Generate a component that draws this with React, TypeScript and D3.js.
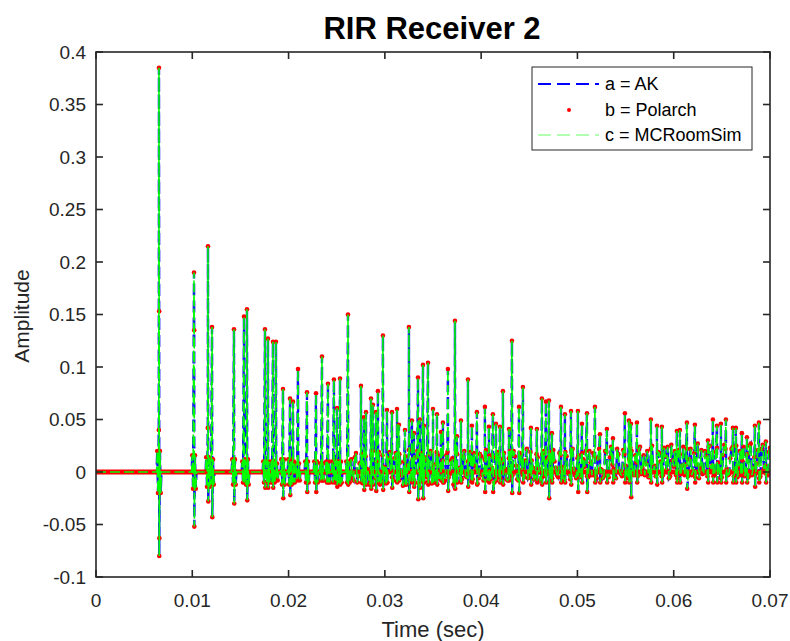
import React from 'react';
import * as d3 from 'd3';

// ---------- data (time in ms, amplitude) ----------
const xTicks = [0, 0.01, 0.02, 0.03, 0.04, 0.05, 0.06, 0.07];
const xTickLabels = ['0', '0.01', '0.02', '0.03', '0.04', '0.05', '0.06', '0.07'];
const yTicks = [-0.1, -0.05, 0, 0.05, 0.1, 0.15, 0.2, 0.25, 0.3, 0.35, 0.4];
const yTickLabels = ['-0.1', '-0.05', '0', '0.05', '0.1', '0.15', '0.2', '0.25', '0.3', '0.35', '0.4'];

const seriesNames = ['a = AK', 'b = Polarch', 'c = MCRoomSim'];

// early, isolated reflections
const earlyTimes = [6.54, 10.18, 11.63, 12.05, 14.33, 15.37, 15.68, 17.55, 17.86, 18.38, 18.69, 19.42, 20.15, 20.46, 20.98, 21.91, 22.85, 23.47, 24.09, 24.71, 25.03, 25.34, 26.17];
const earlyPeaks = [0.385, 0.19, 0.215, 0.138, 0.136, 0.148, 0.155, 0.136, 0.127, 0.124, 0.124, 0.079, 0.07, 0.067, 0.098, 0.076, 0.075, 0.11, 0.084, 0.088, 0.061, 0.089, 0.15];
const earlyTroughs = [-0.08, -0.052, -0.028, -0.043, -0.03, -0.01, -0.027, -0.015, -0.015, -0.015, -0.005, -0.025, -0.022, -0.01, -0.005, -0.019, -0.019, -0.008, -0.01, -0.008, -0.014, -0.012, -0.012];
const earlyRings = [0.02, 0.016, 0.014, 0.012, 0.012, 0.01, 0.012, 0.01, 0.01, 0.01, 0.008, 0.012, 0.012, 0.01, 0.008, 0.01, 0.01, 0.008, 0.01, 0.01, 0.01, 0.01, 0.01];

// intermediate samples on the biggest spikes
const extraTimes = [6.52, 6.56, 6.58, 10.2, 11.61];
const extraValues = [0.04, 0.153, -0.063, 0.135, 0.042];

// later, dense reflections
const lateTimes = [27.52, 27.83, 28.04, 28.56, 28.76, 29.08, 29.28, 29.8, 30.22, 30.74, 31.26, 31.46, 32.09, 32.5, 32.81, 33.02, 33.44, 33.64, 33.96, 34.06, 34.48, 35.0, 35.41, 35.83, 36.03, 36.55, 37.28, 37.49, 37.9, 38.63, 39.04, 39.56, 40.39, 40.81, 41.22, 41.54, 41.95, 42.26, 42.89, 43.2, 43.93, 44.34, 45.17, 45.79, 46.31, 46.73, 47.04, 47.35, 48.29, 48.7, 49.33, 50.05, 50.47, 50.99, 51.82, 52.34, 53.06, 53.69, 54.93, 55.35, 55.56, 56.18, 57.63, 58.26, 58.77, 60.33, 60.64, 61.37, 62.2, 63.55, 64.07, 64.49, 64.9, 65.42, 66.15, 66.46, 67.08, 67.6, 68.43, 68.85, 69.57];
const latePeaks = [0.082, 0.052, 0.057, 0.07, 0.064, 0.057, 0.077, 0.13, 0.059, 0.057, 0.06, 0.045, 0.04, 0.138, 0.049, 0.037, 0.09, 0.05, 0.102, 0.044, 0.104, 0.06, 0.055, 0.038, 0.047, 0.098, 0.144, 0.034, 0.049, 0.088, 0.044, 0.057, 0.062, 0.043, 0.055, 0.046, 0.043, 0.077, 0.041, 0.125, 0.062, 0.081, 0.042, 0.041, 0.07, 0.067, 0.068, 0.037, 0.062, 0.055, 0.058, 0.058, 0.046, 0.056, 0.062, 0.036, 0.041, 0.032, 0.056, 0.049, 0.046, 0.047, 0.05, 0.044, 0.043, 0.039, 0.04, 0.047, 0.045, 0.03, 0.05, 0.044, 0.046, 0.05, 0.042, 0.042, 0.037, 0.033, 0.044, 0.047, 0.029];
const lateTroughs = [-0.01, -0.017, -0.012, -0.016, -0.012, -0.018, -0.01, -0.017, -0.01, -0.015, -0.01, -0.008, -0.012, -0.019, -0.01, -0.014, -0.026, -0.015, -0.025, -0.01, -0.012, -0.01, -0.012, -0.008, -0.01, -0.018, -0.016, -0.01, -0.01, -0.014, -0.01, -0.012, -0.019, -0.01, -0.019, -0.008, -0.01, -0.012, -0.008, -0.02, -0.02, -0.01, -0.012, -0.01, -0.012, -0.01, -0.025, -0.01, -0.01, -0.01, -0.012, -0.019, -0.01, -0.019, -0.01, -0.01, -0.01, -0.01, -0.01, -0.01, -0.024, -0.01, -0.01, -0.012, -0.01, -0.01, -0.01, -0.016, -0.01, -0.01, -0.01, -0.01, -0.01, -0.01, -0.01, -0.01, -0.01, -0.01, -0.014, -0.01, -0.01];

// diffuse tail samples, from 26.5 ms every 0.25 ms
const tailStart = 26.5;
const tailStep = 0.25;
const tailValues = [
  0.012, -0.008, 0.018, -0.004, 0.009, -0.011, 0.015, 0.002, -0.009, 0.02, -0.006, 0.011, -0.012, 0.016, 0.004, -0.01, 0.019, -0.005, 0.013, -0.009,
  0.017, -0.003, 0.01, -0.012, 0.021, 0.001, -0.008, 0.014, -0.011, 0.018, -0.004, 0.012, -0.009, 0.02, 0.003, -0.01, 0.016, -0.006, 0.011, -0.008,
  0.019, -0.002, 0.013, -0.01, 0.017, 0.004, -0.007, 0.02, -0.005, 0.012, -0.009, 0.018, 0.002, -0.006, 0.015, -0.008, 0.021, 0.001, -0.007, 0.014,
  -0.004, 0.019, -0.006, 0.012, 0.003, -0.008, 0.02, -0.003, 0.015, -0.007, 0.018, 0.002, -0.005, 0.022, -0.004, 0.011, -0.007, 0.017, 0.003, -0.006,
  0.02, -0.002, 0.014, -0.007, 0.021, 0.004, -0.005, 0.016, -0.006, 0.019, 0.001, -0.007, 0.022, -0.003, 0.013, -0.005, 0.018, 0.005, -0.004, 0.02,
  -0.003, 0.015, -0.006, 0.022, 0.002, -0.004, 0.019, -0.005, 0.024, 0.003, -0.006, 0.017, -0.002, 0.021, 0.006, -0.005, 0.023, -0.001, 0.016, -0.004,
  0.024, 0.004, -0.003, 0.02, -0.005, 0.025, 0.006, -0.002, 0.018, -0.004, 0.023, 0.002, -0.006, 0.026, 0.005, -0.003, 0.021, -0.002, 0.024, 0.007,
  -0.004, 0.022, 0.001, -0.005, 0.027, 0.004, -0.002, 0.02, -0.004, 0.025, 0.006, -0.003, 0.023, 0.001, -0.005, 0.026, 0.003, -0.002, 0.022, -0.004,
  0.025, 0.005, -0.003, 0.024, 0.002, -0.005, 0.027, 0.004, -0.002, 0.021, -0.004, 0.026, 0.006, -0.003, 0.023,
];
// interleaved tail samples, from 26.625 ms every 0.25 ms
const tail2Start = 26.625;
const tail2Values = [
  -0.006, 0.014, -0.01, 0.008, 0.017, -0.007, 0.003, -0.012, 0.016, -0.002, 0.01, 0.019, -0.009, 0.005, -0.011, 0.013, 0.001, -0.008, 0.018, -0.004,
  0.009, -0.013, 0.015, 0.006, -0.007, 0.012, -0.01, 0.02, 0.002, -0.009, 0.014, -0.005, 0.017, -0.011, 0.007, 0.019, -0.006, 0.003, -0.01, 0.016,
  -0.005, 0.011, -0.012, 0.018, 0.003, -0.009, 0.015, -0.004, 0.01, 0.019, -0.007, 0.006, -0.011, 0.017, -0.003, 0.012, -0.008, 0.016, 0.004, -0.01,
  0.015, -0.005, 0.009, 0.018, -0.007, 0.013, -0.004, 0.02, 0.006, -0.008, 0.016, -0.003, 0.011, -0.006, 0.019, 0.004, -0.005, 0.014, -0.008, 0.017,
  -0.004, 0.012, 0.019, -0.006, 0.01, -0.003, 0.018, 0.005, -0.007, 0.015, -0.002, 0.021, 0.003, -0.006, 0.016, -0.004, 0.012, 0.02, -0.005, 0.009,
  0.018, -0.004, 0.013, 0.003, -0.006, 0.02, -0.002, 0.014, 0.007, -0.005, 0.022, 0.001, -0.004, 0.017, -0.006, 0.012, 0.02, -0.003, 0.009, 0.021,
  -0.002, 0.016, 0.008, -0.005, 0.022, 0.002, -0.004, 0.019, 0.01, -0.003, 0.015, 0.024, -0.004, 0.011, 0.02, -0.006, 0.017, 0.006, -0.003, 0.022,
  0.012, -0.003, 0.018, 0.007, -0.006, 0.021, -0.001, 0.015, 0.024, 0.003, -0.004, 0.019, 0.009, -0.006, 0.016, 0.022, -0.003, 0.013, 0.024, 0.002,
  -0.005, 0.02, 0.011, -0.004, 0.017, 0.025, -0.003, 0.014, 0.008, -0.006, 0.022, 0.003, -0.002, 0.019,
];

const FONT = '"Liberation Sans", Arial, Helvetica, sans-serif';
const AXIS = '#262626';

export default function App() {
  const left = 96, right = 770, top = 52, bottom = 577;
  const x = d3.scaleLinear().domain([0, 0.07]).range([left, right]);
  const y = d3.scaleLinear().domain([-0.1, 0.4]).range([bottom, top]);

  const pts: [number, number][] = [[0, 0]];
  earlyTimes.forEach((t, i) => {
    const r = earlyRings[i];
    pts.push([t - 0.25, 0], [t - 0.18, r], [t - 0.1, -r], [t, earlyPeaks[i]], [t + 0.03, earlyTroughs[i]], [t + 0.1, r], [t + 0.18, -r], [t + 0.26, 0]);
  });
  extraTimes.forEach((t, i) => pts.push([t, extraValues[i]]));
  tailValues.forEach((v, i) => pts.push([tailStart + i * tailStep, v]));
  tail2Values.forEach((v, i) => pts.push([tail2Start + i * tailStep, v]));
  lateTimes.forEach((t, i) => pts.push([t, latePeaks[i]], [t + 0.03, lateTroughs[i]]));
  pts.sort((a, b) => a[0] - b[0]);

  const line = d3.line<[number, number]>().x(d => x(d[0] / 1000)).y(d => y(d[1]));
  const path = line(pts) || '';
  const baseline = line([[0, 0], [70, 0]]) || '';

  const tick = 7;
  const lx0 = 538, lx1 = 599, ltx = 605;
  const rows = [84, 110, 135];

  return (
    <svg width={790} height={641} style={{ position: 'absolute', left: 0, top: 0, background: '#fff' }} fontFamily={FONT}>
      <rect x={0} y={0} width={790} height={641} fill="#fff" />
      <defs>
        <clipPath id="plotclip">
          <rect x={left} y={top} width={right - left} height={bottom - top} />
        </clipPath>
      </defs>
      <g clipPath="url(#plotclip)">
        {/* a = AK */}
        <path d={path} fill="none" stroke="#0000ff" strokeWidth={2.4} strokeDasharray="12,5" opacity={0.95} />
        {/* b = Polarch markers */}
        <path d={baseline} fill="none" stroke="#ff0000" strokeWidth={5} />
        {pts.map((p, i) => (
          <circle key={i} cx={x(p[0] / 1000)} cy={y(p[1])} r={2.3} fill="#ff0000" />
        ))}
        {/* c = MCRoomSim */}
        <path d={path} fill="none" stroke="#00ff00" strokeWidth={1.6} strokeDasharray="10,4" />
      </g>

      {/* axes box */}
      <rect x={left} y={top} width={right - left} height={bottom - top} fill="none" stroke={AXIS} strokeWidth={1.6} />
      {xTicks.map((t, i) => (
        <g key={'x' + i}>
          <line x1={x(t)} x2={x(t)} y1={bottom} y2={bottom - tick} stroke={AXIS} strokeWidth={1.6} />
          <line x1={x(t)} x2={x(t)} y1={top} y2={top + tick} stroke={AXIS} strokeWidth={1.6} />
          <text x={x(t)} y={607} textAnchor="middle" fontSize={19} fill={AXIS}>{xTickLabels[i]}</text>
        </g>
      ))}
      {yTicks.map((t, i) => (
        <g key={'y' + i}>
          <line x1={left} x2={left + tick} y1={y(t)} y2={y(t)} stroke={AXIS} strokeWidth={1.6} />
          <line x1={right} x2={right - tick} y1={y(t)} y2={y(t)} stroke={AXIS} strokeWidth={1.6} />
          <text x={86} y={y(t)} dy="0.35em" textAnchor="end" fontSize={19} fill={AXIS}>{yTickLabels[i]}</text>
        </g>
      ))}

      {/* title and labels */}
      <text x={432} y={39} textAnchor="middle" fontSize={31} fontWeight="bold" fill="#000">RIR Receiver 2</text>
      <text x={433} y={637} textAnchor="middle" fontSize={22} fill={AXIS}>Time (sec)</text>
      <text transform="translate(29,316) rotate(-90)" textAnchor="middle" fontSize={21} fill={AXIS}>Amplitude</text>

      {/* legend */}
      <rect x={532} y={67} width={220} height={83} fill="#fff" stroke={AXIS} strokeWidth={1} />
      <line x1={lx0} x2={lx1} y1={rows[0]} y2={rows[0]} stroke="#0000ff" strokeWidth={2} strokeDasharray="13,6" />
      <circle cx={569} cy={rows[1]} r={2} fill="#ff0000" />
      <line x1={lx0} x2={lx1} y1={rows[2]} y2={rows[2]} stroke="#00ff00" strokeWidth={1.2} strokeDasharray="13,6" opacity={0.6} />
      {seriesNames.map((n, i) => (
        <text key={n} x={ltx} y={rows[i]} dy="0.35em" fontSize={18} fill="#000">{n}</text>
      ))}
    </svg>
  );
}
